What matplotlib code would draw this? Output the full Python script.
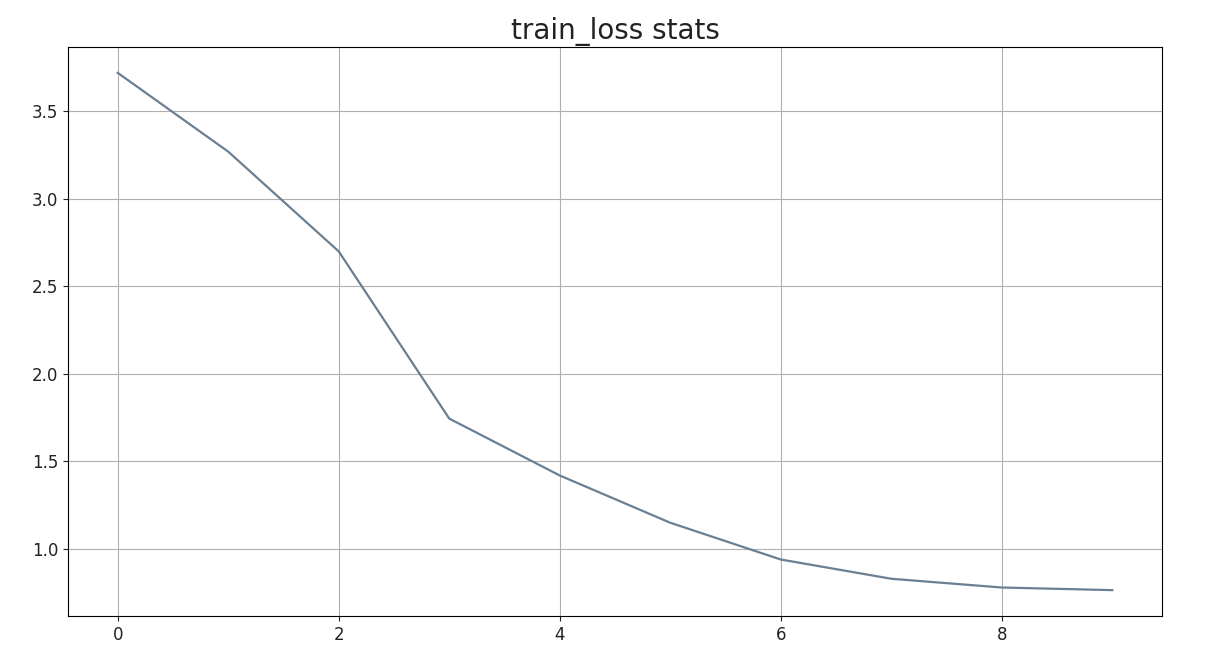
import matplotlib
matplotlib.use("Agg")
import matplotlib.pyplot as plt

epochs = list(range(10))
train_loss = [3.72, 3.27, 2.70, 1.745, 1.42, 1.15, 0.94, 0.83, 0.78, 0.765]

fig = plt.figure(figsize=(12.22, 6.64), dpi=100)
ax = fig.add_axes([68/1222, 1-616/664, (1162-68)/1222, (616-47)/664])
ax.plot(epochs, train_loss, color="#6b7f92", linewidth=1.6)
ax.grid(True, color="#b0b0b0", linewidth=0.8)
ax.set_title("train_loss stats", fontsize=20, color="#222222")
ax.tick_params(labelsize=12, colors="#222222")
fig.savefig("out.png", dpi=100)
